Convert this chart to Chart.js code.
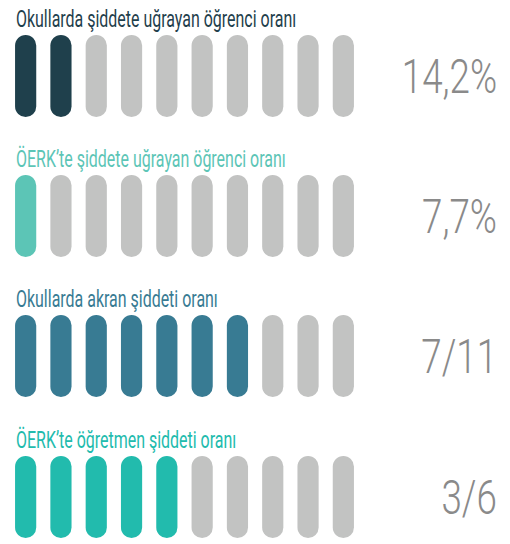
<!DOCTYPE html>
<html>
<head>
<meta charset="utf-8">
<script src="https://cdn.jsdelivr.net/npm/chart.js@4.4.0/dist/chart.umd.min.js"></script>
<style>
  html, body { margin: 0; padding: 0; background: #fff; }
  #wrap { position: relative; width: 510px; height: 544px; overflow: hidden; font-family: Roboto, "Noto Sans", sans-serif; }
  .title { position: absolute; left: 16px; font-size: 24px; line-height: 1; font-weight: 400; white-space: nowrap; transform: scaleX(0.665); transform-origin: left top; }
  .value { position: absolute; right: 13px; font-size: 49px; line-height: 1; font-weight: 300; color: #8a8a8a; white-space: nowrap; transform: scaleX(0.75); transform-origin: right top; }
  .bars { position: absolute; left: 8px; width: 353px; height: 82px; }
</style>
</head>
<body>
<div id="wrap"></div>
<script>
// veriler
const titles   = ["Okullarda şiddete uğrayan öğrenci oranı", "ÖERK’te şiddete uğrayan öğrenci oranı", "Okullarda akran şiddeti oranı", "ÖERK’te öğretmen şiddeti oranı"];
const filled   = [2, 1, 7, 5];
const total    = 10;
const labels   = ["14,2%", "7,7%", "7/11", "3/6"];
const colors   = ["#1f404c", "#5cc5b6", "#387b93", "#22bbad"];
const grey     = "#c2c3c2";

// satır konumları
const rowTop   = [0, 140, 280, 421];

const wrap = document.getElementById("wrap");

for (let i = 0; i < titles.length; i++) {
    const t = document.createElement("div");
    t.className = "title";
    t.style.top = (rowTop[i] + 7) + "px";
    t.style.color = colors[i];
    t.textContent = titles[i];
    wrap.appendChild(t);

    const v = document.createElement("div");
    v.className = "value";
    v.style.top = (rowTop[i] + 52) + "px";
    v.textContent = labels[i];
    wrap.appendChild(v);

    const box = document.createElement("div");
    box.className = "bars";
    box.style.top = (rowTop[i] + 35) + "px";
    const cv = document.createElement("canvas");
    box.appendChild(cv);
    wrap.appendChild(box);

    const cats = [];
    const vals = [];
    const bg = [];
    for (let k = 0; k < total; k++) {
        cats.push(String(k + 1));
        vals.push(1);
        bg.push(k < filled[i] ? colors[i] : grey);
    }

    new Chart(cv.getContext("2d"), {
        type: "bar",
        data: {
            labels: cats,
            datasets: [{
                data: vals,
                backgroundColor: bg,
                borderRadius: 11,
                borderSkipped: false,
                barPercentage: 0.6,
                categoryPercentage: 1
            }]
        },
        options: {
            responsive: true,
            maintainAspectRatio: false,
            animation: false,
            layout: { padding: 0 },
            plugins: { legend: { display: false }, tooltip: { enabled: false } },
            scales: {
                x: { display: false },
                y: { display: false, min: 0, max: 1 }
            }
        }
    });
}
</script>
</body>
</html>
